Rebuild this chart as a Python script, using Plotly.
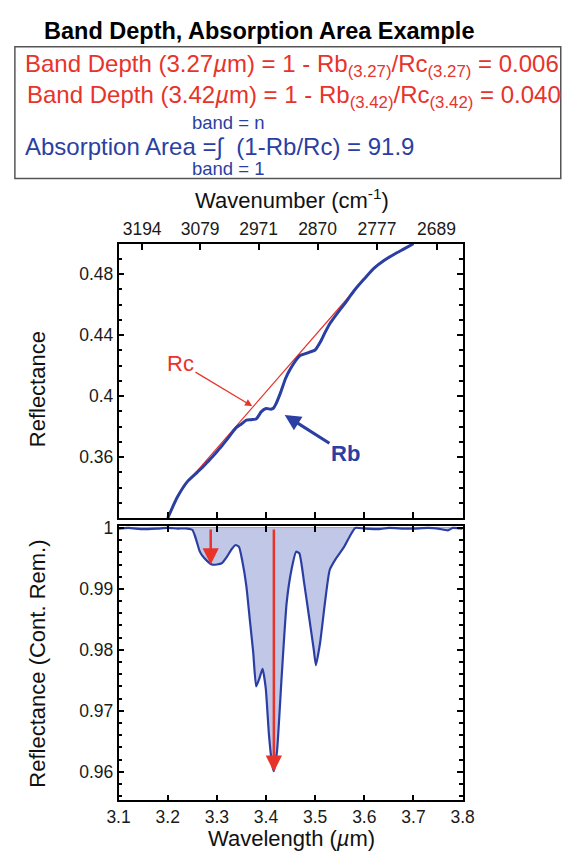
import plotly.graph_objects as go

# ---------------- data ----------------
# Top panel: continuum (Rc) and measured spectrum (Rb)
wl_rc = [3.20, 3.22, 3.24, 3.26, 3.58, 3.60, 3.62, 3.64, 3.66, 3.68, 3.70]
rc = [0.320, 0.334, 0.344, 0.351, 0.4695, 0.477, 0.484, 0.489, 0.493, 0.4965, 0.500]

wl_rb = [3.20, 3.22, 3.24, 3.26, 3.27, 3.28, 3.29, 3.30, 3.31, 3.32, 3.33, 3.34,
         3.35, 3.36, 3.37, 3.38, 3.385, 3.39, 3.40, 3.41, 3.415, 3.42, 3.43, 3.44,
         3.45, 3.46, 3.47, 3.48, 3.49, 3.50, 3.51, 3.52, 3.53, 3.54, 3.55, 3.56,
         3.57, 3.58, 3.60, 3.62, 3.64, 3.66, 3.68, 3.70]
rb = [0.320, 0.334, 0.344, 0.3501, 0.3531, 0.3565, 0.3599, 0.3636, 0.3674, 0.3714,
      0.3756, 0.3795, 0.3818, 0.3843, 0.3846, 0.3851, 0.3872, 0.3897, 0.3919, 0.3915,
      0.3921, 0.3948, 0.4027, 0.4118, 0.4181, 0.4232, 0.4268, 0.4279, 0.4291, 0.4303,
      0.4352, 0.4417, 0.4477, 0.4522, 0.4565, 0.4606, 0.4651, 0.4695, 0.477, 0.484,
      0.489, 0.493, 0.4965, 0.500]

# Bottom panel: continuum-removed reflectance
wl_cr = [3.10, 3.12, 3.15, 3.18, 3.20, 3.22, 3.24, 3.25, 3.255, 3.26, 3.265, 3.27,
         3.28, 3.29, 3.30, 3.31, 3.32, 3.33, 3.338, 3.345, 3.352, 3.36, 3.367, 3.374,
         3.380, 3.3865, 3.393, 3.3995, 3.406, 3.4125, 3.4158, 3.4224, 3.432, 3.442,
         3.4517, 3.4614, 3.4678, 3.4776, 3.4873, 3.4971, 3.5016, 3.5101, 3.5199,
         3.5296, 3.5425, 3.5589, 3.5717, 3.5815, 3.60, 3.63, 3.65, 3.68, 3.70, 3.73,
         3.75, 3.77, 3.78, 3.80]
cr = [0.9999, 1.0, 0.9998, 0.9999, 1.0, 0.9999, 0.9999, 0.9997, 0.9988, 0.9975,
      0.9962, 0.9955, 0.9946, 0.9940, 0.9940, 0.9942, 0.9952, 0.9965, 0.9972, 0.9969,
      0.9945, 0.9905, 0.9850, 0.9796, 0.9740, 0.9753, 0.9769, 0.9737, 0.9661, 0.9612,
      0.9601, 0.9634, 0.9758, 0.9877, 0.9931, 0.9961, 0.99585, 0.9910, 0.9856, 0.9801,
      0.9775, 0.9812, 0.9877, 0.9931, 0.9950, 0.9969, 0.9988, 1.0, 0.9999, 0.9998,
      1.0, 0.9999, 0.9999, 1.0, 0.9999, 0.9996, 1.0, 0.9999]

# Band depth markers
band_wl = [3.2875, 3.416]
band_depth = [0.006, 0.040]

# Top axis (wavenumber) ticks
wn_labels = ["3194", "3079", "2971", "2870", "2777", "2689"]
wn_tick_wl = [3.148, 3.266, 3.385, 3.505, 3.626, 3.747]

wl_ticks = [3.1, 3.2, 3.3, 3.4, 3.5, 3.6, 3.7, 3.8]
top_yticks = [0.36, 0.40, 0.44, 0.48]
top_yticktext = ["0.36", "0.4", "0.44", "0.48"]
bot_yticks = [0.96, 0.97, 0.98, 0.99, 1.0]
bot_yticktext = ["0.96", "0.97", "0.98", "0.99", "1"]

# ---------------- style ----------------
W, H = 562, 853
BLUE = "#2b3fa3"
RED = "#e8332b"
FILL = "rgba(190,197,230,0.95)"
FONT = "Liberation Sans, Arial, Helvetica, sans-serif"

def px(x):
    return x / W

def py(y):
    return 1 - y / H

fig = go.Figure()

# top panel
fig.add_trace(go.Scatter(x=wl_rc, y=rc, mode="lines", line=dict(color=RED, width=1.2),
                         xaxis="x", yaxis="y", showlegend=False, hoverinfo="skip"))
fig.add_trace(go.Scatter(x=wl_rb, y=rb, mode="lines", line=dict(color=BLUE, width=3, shape="spline", smoothing=0.6),
                         xaxis="x", yaxis="y", showlegend=False))
# invisible trace so the wavenumber axis is drawn
fig.add_trace(go.Scatter(x=wn_tick_wl, y=[0.4] * len(wn_tick_wl), mode="markers",
                         marker=dict(opacity=0), xaxis="x3", yaxis="y",
                         showlegend=False, hoverinfo="skip"))

# bottom panel: baseline + fill
fig.add_trace(go.Scatter(x=[wl_cr[0], wl_cr[-1]], y=[1.0, 1.0], mode="lines",
                         line=dict(color=RED, width=1), xaxis="x2", yaxis="y2",
                         showlegend=False, hoverinfo="skip"))
fig.add_trace(go.Scatter(x=wl_cr, y=[1.0] * len(wl_cr), mode="lines", line=dict(width=0),
                         xaxis="x2", yaxis="y2", showlegend=False, hoverinfo="skip"))
fig.add_trace(go.Scatter(x=wl_cr, y=cr, mode="lines", fill="tonexty", fillcolor=FILL,
                         line=dict(color=BLUE, width=2.2, shape="spline", smoothing=0.5),
                         xaxis="x2", yaxis="y2", showlegend=False))

xdom = [px(111.3), px(470.7)]
axis_common = dict(showline=True, linecolor="black", linewidth=1.5, ticks="inside",
                   tickcolor="black", tickwidth=1.5, ticklen=6, showgrid=False, zeroline=False,
                   tickfont=dict(family=FONT, size=17.5, color="#1a1a1a"))

fig.update_layout(
    width=W, height=H, margin=dict(l=0, r=0, t=0, b=0),
    paper_bgcolor="white", plot_bgcolor="white",
    xaxis=dict(domain=xdom, anchor="y", range=[3.1, 3.8], tickvals=wl_ticks,
               showticklabels=False, **axis_common),
    xaxis3=dict(overlaying="x", anchor="y", side="top", range=[3.1, 3.8],
                tickvals=wn_tick_wl, ticktext=wn_labels, **axis_common),
    yaxis=dict(domain=[py(515), py(238)], anchor="x", range=[0.32, 0.50],
               tickvals=top_yticks, ticktext=top_yticktext, mirror="ticks",
               minor=dict(dtick=0.01, tick0=0.32, ticks="inside", ticklen=3.5,
                          tickcolor="black", tickwidth=1.5),
               **axis_common),
    xaxis2=dict(domain=xdom, anchor="y2", range=[3.1, 3.8], tickvals=wl_ticks,
                ticktext=[f"{v:.1f}" for v in wl_ticks], mirror="ticks", **axis_common),
    yaxis2=dict(domain=[py(800), py(523)], anchor="x2", range=[0.9553, 1.0003],
                tickvals=bot_yticks, ticktext=bot_yticktext, mirror="ticks",
                minor=dict(dtick=0.002, tick0=0.96, ticks="inside", ticklen=3.5,
                           tickcolor="black", tickwidth=1.5),
                **axis_common),
)

annotations = []

# band depth arrows (bottom)
for w, d in zip(band_wl, band_depth):
    annotations.append(dict(x=w, y=1 - d, xref="x2", yref="y2", ax=w, ay=1.0,
                            axref="x2", ayref="y2", showarrow=True, arrowhead=2,
                            arrowsize=1.3, arrowwidth=2.5, arrowcolor=RED, text=""))

# Rc / Rb labels with arrows (top)
annotations.append(dict(x=3.372, y=0.3935, xref="x", yref="y", ax=3.226, ay=0.4217,
                        axref="x", ayref="y", text="Rc", showarrow=True, arrowhead=2,
                        arrowsize=1.2, arrowwidth=1.2, arrowcolor=RED,
                        font=dict(family=FONT, size=22, color=RED)))
annotations.append(dict(x=3.438, y=0.3877, xref="x", yref="y", ax=3.5615, ay=0.3625,
                        axref="x", ayref="y", text="<b>Rb</b>", showarrow=True, arrowhead=2,
                        arrowsize=1.0, arrowwidth=3.2, arrowcolor=BLUE,
                        font=dict(family=FONT, size=22, color=BLUE)))

def txt(x, y, text, size, color="#111", xanchor="center", angle=0):
    return dict(x=px(x), y=py(y), xref="paper", yref="paper", text=text, showarrow=False,
                xanchor=xanchor, yanchor="middle", textangle=angle,
                font=dict(family=FONT, size=size, color=color))

# Axis titles
annotations.append(txt(292, 193, "Wavenumber (cm<sup>-1</sup>)", 22))
annotations.append(txt(292, 838, "Wavelength (<i>µ</i>m)", 22))
annotations.append(txt(27, 385, "Reflectance", 22, angle=-90))
annotations.append(txt(27, 662, "Reflectance (Cont. Rem.)", 22, angle=-90))

# Header
annotations.append(txt(258, 23, "<b>Band Depth, Absorption Area Example</b>", 23.5, color="black"))
annotations.append(txt(12, 58, "Band Depth (3.27<i>µ</i>m) = 1 - Rb<sub>(3.27)</sub>/Rc<sub>(3.27)</sub> = 0.006",
                       24, color=RED, xanchor="left"))
annotations.append(txt(14, 89, "Band Depth (3.42<i>µ</i>m) = 1 - Rb<sub>(3.42)</sub>/Rc<sub>(3.42)</sub> = 0.040",
                       24, color=RED, xanchor="left"))
annotations.append(txt(226, 116, "band = n", 18.5, color=BLUE))
annotations.append(txt(12, 140, "Absorption Area =∫  (1-Rb/Rc) = 91.9", 24, color=BLUE, xanchor="left"))
annotations.append(txt(226, 162, "band = 1", 18.5, color=BLUE))

fig.update_layout(annotations=annotations)

fig.add_shape(type="rect", xref="paper", yref="paper", x0=px(3), x1=1.02,
              y0=py(172), y1=py(39), line=dict(color="#555", width=1.5))

fig.write_html("out.html")
